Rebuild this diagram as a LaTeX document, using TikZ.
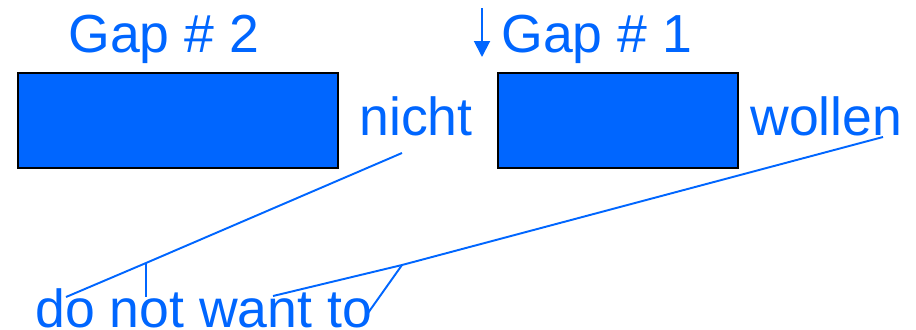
\documentclass[tikz,border=0pt]{standalone}
\usepackage{fontspec}
\setmainfont{Liberation Sans}
\usetikzlibrary{arrows.meta}
\definecolor{gapblue}{HTML}{0066FF}

\tikzset{
	gapbox/.style={draw=black, line width=1.6pt, fill=gapblue, inner sep=0pt},
	word/.style={text=gapblue, font=\fontsize{30.5}{34}\selectfont, inner sep=0pt, anchor=base west},
	link/.style={draw=gapblue, line width=1.1pt}
}

\begin{document}
\begin{tikzpicture}[x=0.02cm, y=-0.02cm]
\useasboundingbox (0,0) rectangle (916,329);

% the two empty slots
\node (gap2) at (178,120.5) [gapbox, minimum width=6.4cm, minimum height=1.9cm] {};
\node (gap1) at (618,120.5) [gapbox, minimum width=4.8cm, minimum height=1.9cm] {};

\node (gap2label) at (68,52) [word] {Gap \# 2};
\node (gap1label) at (501,52) [word] {Gap \# 1};
\node (nicht) at (359,135) [word] {nicht};
\node (wollen) at (750,135) [word] {wollen};
\node (gloss) at (35,327) [word] {do not want to};

% insertion mark
\coordinate (marktop) at (482,8);
\coordinate (markfoot) at (482,57);
\draw [link, -{Triangle[length=0.32cm, width=0.32cm]}] (marktop) -- (markfoot);

% links from the gloss up to the words
\coordinate (nichtfoot) at (402,153);
\coordinate (dotop) at (66,297);
\coordinate (notjoin) at (146,263);
\coordinate (nottop) at (146,297);
\coordinate (wollenfoot) at (883,137);
\coordinate (wantjoin) at (402,265);
\coordinate (wanttop) at (273,296);
\coordinate (totop) at (368,313);

\draw [link] (nichtfoot) -- (notjoin) -- (dotop);
\draw [link] (notjoin) -- (nottop);
\draw [link] (wollenfoot) -- (wantjoin) -- (wanttop);
\draw [link] (wantjoin) -- (totop);
\end{tikzpicture}
\end{document}
